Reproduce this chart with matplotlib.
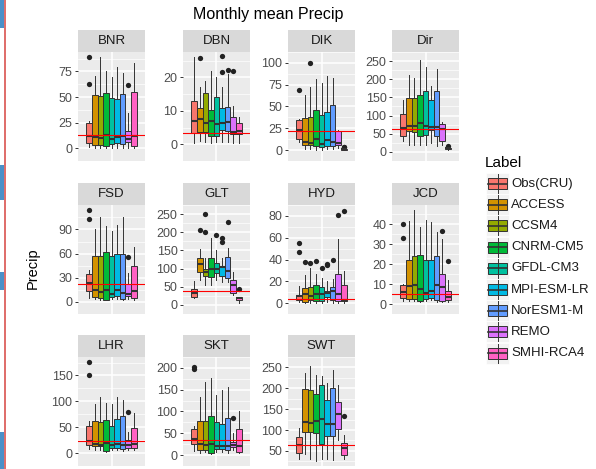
import matplotlib.pyplot as plt
from matplotlib.patches import Rectangle

plt.rcParams["font.family"] = ["Liberation Sans", "DejaVu Sans"]

W, H = 596, 469

labels = ["Obs(CRU)", "ACCESS", "CCSM4", "CNRM-CM5", "GFDL-CM3",
          "MPI-ESM-LR", "NorESM1-M", "REMO", "SMHI-RCA4"]
colors = ["#F8766D", "#D39200", "#93AA00", "#00BA38", "#00C19F",
          "#00B9E3", "#619CFF", "#DB72FB", "#FF61C3"]
stations = ["BNR", "DBN", "DIK", "Dir", "FSD", "GLT", "HYD", "JCD",
            "LHR", "SKT", "SWT"]

# box stats per model: (whislo, q1, median, q3, whishi)
bnr_box = [(1, 5, 12, 25, 27), (0.5, 3, 11, 52, 71), (0.5, 3, 10, 51.5, 89),
           (0.5, 2, 13, 54, 75), (0.5, 4, 9, 49, 70), (0.5, 5, 11, 48.5, 79.5),
           (0.5, 4, 12, 53, 74), (0.5, 6, 9, 17, 34), (0.5, 2, 12, 55, 83)]
bnr_out = [[89.6, 63], [], [], [], [], [], [], [61.6], []]
dbn_box = [(0.5, 3.5, 7, 13, 26), (1, 3.6, 7.5, 10.9, 17), (0.8, 3.6, 6.3, 15.4, 19),
           (0.5, 2.4, 6.9, 10.4, 22), (0.8, 2.5, 6.0, 14.1, 20), (0.8, 4.2, 6.4, 10.9, 17),
           (0.6, 4.0, 6.6, 11.1, 21), (0.3, 3.0, 3.8, 8.2, 11.3), (0.3, 3.0, 3.9, 6.4, 8.2)]
dbn_out = [[], [25.9], [], [], [], [26.3, 21.6], [22.2], [21.9], []]
dik_box = [(9, 13.3, 23, 34.7, 35.7), (1, 5.7, 9, 36.7, 63), (1, 6, 8.3, 38.3, 72.3),
           (0.5, 4.7, 12.3, 45.7, 81.3), (0.5, 4, 7.3, 40.7, 77), (1, 5, 11.7, 44, 85),
           (1, 5, 9, 51.3, 83), (2, 6, 8, 22.3, 22.5), (0.2, 0.5, 1, 1.5, 2.5)]
dik_out = [[69], [], [99.7], [], [], [], [], [], [3.5, 4]]
dir_box = [(30, 43, 65.8, 104.5, 141.6), (20, 57.3, 70.8, 148.4, 213),
           (20, 55.6, 70.8, 148.4, 203), (18, 43, 78.4, 156.8, 252),
           (20, 47, 70.8, 167, 233), (25, 60, 68, 143, 182),
           (15, 44.7, 67.5, 168.6, 227), (20, 30, 64, 76.7, 81), (5, 8, 10, 12, 14)]
dir_out = [[], [], [], [], [], [], [], [], [17]]
fsd_box = [(5, 14, 24, 35, 40), (3.5, 5.7, 15.2, 56.7, 90), (3, 5, 12.2, 56.7, 105),
           (2, 2.7, 14.4, 61.6, 94), (4, 6.5, 10.3, 56.7, 88.6), (4, 7.6, 14.4, 59.7, 95.8),
           (2, 3.8, 11.4, 59.7, 105), (4, 7.6, 10.3, 21.7, 35.4), (3, 5, 14, 44.5, 68.4)]
fsd_out = [[114.8, 102.7], [], [], [], [], [], [], [56.3], []]
glt_box = [(18, 23, 33, 43.9, 66), (68.7, 91, 113.4, 130, 155), (53.8, 78.6, 91, 99.3, 128),
           (53.8, 77, 97.7, 128, 183.8), (68.7, 88.6, 99.3, 115.9, 151.5),
           (63, 78.6, 103.5, 107.6, 128), (62, 74.5, 92.7, 130.8, 157),
           (27, 33, 55.5, 68.7, 91), (5.8, 12.4, 18.2, 22.4, 22.4)]
glt_out = [[], [205], [250, 201], [], [193], [183.8, 173.8], [229], [], [43.9]]
hyd_box = [(1, 2.8, 6.2, 7.7, 15.6), (0.2, 0.9, 8.5, 14.2, 25.5), (0.5, 2.8, 6.2, 14.8, 32.6),
           (0.5, 2.3, 8.5, 16.2, 26.4), (0.5, 2, 8.5, 14.8, 23.3), (1, 5.7, 9.1, 11.3, 19.9),
           (0.5, 2.8, 11.3, 15, 22.1), (0.5, 2, 7.9, 27, 59), (0.5, 2, 2.8, 16.2, 29)]
hyd_out = [[55.3, 46.8], [37.4], [36.9], [38.3], [32.1], [34.6, 36.3], [39.1], [80.9], [84.3]]
jcd_box = [(1.6, 3.1, 5.8, 9.7, 10.2), (1.5, 2.4, 9, 22, 41.6), (1.5, 2.4, 9.4, 24.3, 47.4),
           (1, 1.6, 7.4, 24.6, 38.5), (1.5, 2.7, 5.5, 22, 42), (2, 3.1, 6.3, 22, 41.1),
           (1, 1.9, 9.4, 24.3, 36.4), (0.8, 1.3, 8.6, 14.9, 32.5), (1, 1.9, 3.6, 6.6, 12.1)]
jcd_out = [[40, 33.4], [], [], [], [], [], [], [36.9], [21.5]]
lhr_box = [(8, 16.5, 24, 51.8, 62), (5, 13.5, 18, 62, 94.7), (5, 13, 16.5, 60.6, 108.8),
           (2, 3.5, 19.4, 64.7, 96), (5, 10, 14.7, 53, 94), (5, 10, 18.2, 66.5, 108.8),
           (4, 8, 15.3, 72.4, 101.8), (6, 10.6, 15.3, 25.3, 40), (5, 10, 17.6, 48.8, 78.2)]
lhr_out = [[177, 150.6], [], [], [], [], [], [], [79.4], []]
skt_box = [(9, 26, 36, 60, 67), (5, 11, 26, 79, 134), (6, 12, 23, 78, 168),
           (3, 5.5, 26, 89, 176), (8, 14, 21, 76, 137), (8, 14, 21, 72, 149),
           (5, 11, 20, 84, 156), (12, 18, 24, 31, 50), (4, 8, 20, 59, 101)]
skt_out = [[203, 198], [], [], [], [], [], [], [86], []]
swt_box = [(30.6, 43.8, 63.2, 82.6, 104.3), (42, 94.2, 119.8, 198.8, 235.7),
           (30, 94.2, 117.4, 195.7, 253.5), (25.2, 92.6, 121.3, 185.7, 232.2),
           (30, 65.5, 126, 209, 229.8), (30, 86.4, 113.6, 171.7, 212.8),
           (28, 86.4, 113.6, 201, 243.8), (77, 102.7, 139.1, 166.3, 209),
           (30.6, 40, 57, 68.6, 87.9)]
swt_out = [[], [], [], [], [], [], [], [], [133]]

obs_line = [12.5, 3.5, 22.3, 62.4, 22.4, 37.3, 3.4, 5.2, 23.5, 35, 63.2]
yticks = [[0, 25, 50, 75], [0, 10, 20], [0, 25, 50, 75, 100],
          [0, 50, 100, 150, 200, 250], [0, 30, 60, 90], [0, 50, 100, 150, 200, 250],
          [0, 20, 40, 60, 80], [0, 10, 20, 30, 40], [0, 50, 100, 150],
          [0, 50, 100, 150, 200], [50, 100, 150, 200, 250]]

boxes = [bnr_box, dbn_box, dik_box, dir_box, fsd_box, glt_box, hyd_box, jcd_box,
         lhr_box, skt_box, swt_box]
outs = [bnr_out, dbn_out, dik_out, dir_out, fsd_out, glt_out, hyd_out, jcd_out,
        lhr_out, skt_out, swt_out]

fig = plt.figure(figsize=(W / 100, H / 100), dpi=100)
fig.patch.set_facecolor("white")


def px_axes(left, top, w, h):
    return fig.add_axes([left / W, 1 - (top + h) / H, w / W, h / H])


col_left = [78, 183, 288, 392]
row_top = [52, 205, 357]
pw, ph, sh = 67, 109, 22

for k, name in enumerate(stations):
    r, c = divmod(k, 4)
    ax = px_axes(col_left[c], row_top[r], pw, ph)
    st = px_axes(col_left[c], row_top[r] - sh, pw, sh)

    stats = []
    allv = [obs_line[k]]
    for (lo, q1, med, q3, hi), fl in zip(boxes[k], outs[k]):
        stats.append(dict(whislo=lo, q1=q1, med=med, q3=q3, whishi=hi, fliers=fl))
        allv += [lo, hi] + fl
    pos = [1 + (i - 4) * 0.1 for i in range(9)]
    bp = ax.bxp(stats, positions=pos, widths=0.1, patch_artist=True,
                showcaps=False, manage_ticks=False,
                boxprops=dict(edgecolor="#333333", linewidth=0.7),
                medianprops=dict(color="#333333", linewidth=1.5),
                whiskerprops=dict(color="#333333", linewidth=0.7),
                flierprops=dict(marker="o", markerfacecolor="#222222",
                                markeredgecolor="none", markersize=3.8))
    for patch, col in zip(bp["boxes"], colors):
        patch.set_facecolor(col)
    ax.axhline(obs_line[k], color="red", lw=0.8, zorder=5)

    lo, hi = min(allv), max(allv)
    rng = hi - lo
    ax.set_ylim(lo - 0.05 * rng, hi + 0.05 * rng)
    ax.set_xlim(0.4, 1.6)

    t = yticks[k]
    step = t[1] - t[0]
    ax.set_yticks(t)
    minors = [v + step / 2 for v in [t[0] - step] + t]
    ax.set_yticks(minors, minor=True)
    ax.set_xticks([1])
    ax.set_facecolor("#EBEBEB")
    ax.set_axisbelow(True)
    ax.grid(True, which="major", color="white", lw=1.1)
    ax.yaxis.grid(True, which="minor", color="white", lw=0.5)
    for s in ax.spines.values():
        s.set_visible(False)
    ax.tick_params(axis="y", which="major", length=2.5, width=0.7, color="#333333",
                   labelsize=9, labelcolor="#4D4D4D", pad=1.5)
    ax.tick_params(axis="y", which="minor", length=0)
    ax.tick_params(axis="x", length=0, labelbottom=False)

    st.set_facecolor("#D9D9D9")
    st.set_xticks([])
    st.set_yticks([])
    for s in st.spines.values():
        s.set_visible(False)
    st.text(0.5, 0.5, name, ha="center", va="center", fontsize=9.5, color="#1A1A1A",
            transform=st.transAxes)

fig.text(268 / W, 1 - 15 / H, "Monthly mean Precip", ha="center", va="center", fontsize=11.5)
fig.text(33 / W, 1 - 268 / H, "Precip", ha="center", va="center", rotation=90, fontsize=10.5)

# legend
lg = px_axes(478, 150, 118, 215)
lg.set_xlim(478, 596)
lg.set_ylim(365, 150)
lg.axis("off")
lg.text(485, 163, "Label", ha="left", va="center", fontsize=11)
for i, (lab, col) in enumerate(zip(labels, colors)):
    y0 = 173 + i * 21.2
    lg.add_patch(Rectangle((486, y0), 23, 21, facecolor="#F2F2F2", edgecolor="white", lw=0.5))
    lg.plot([497.5, 497.5], [y0 + 1, y0 + 20], color="#333333", lw=0.7)
    lg.add_patch(Rectangle((488, y0 + 5), 19, 11, facecolor=col, edgecolor="#333333", lw=0.7))
    lg.plot([488, 507], [y0 + 10.5, y0 + 10.5], color="#333333", lw=1.2)
    lg.text(511, y0 + 10.5, lab, ha="left", va="center", fontsize=9.5, color="#1A1A1A")

# screenshot edge strip on the far left
edge = px_axes(0, 0, 7, H)
edge.set_xlim(0, 7)
edge.set_ylim(H, 0)
edge.axis("off")
edge.plot([5, 5], [0, H], color="#D9534F", lw=1.2)
for y0, y1 in [(0, 28), (165, 200), (272, 290), (432, 469)]:
    edge.add_patch(Rectangle((0, y0), 3.5, y1 - y0, facecolor="#4A90C8", edgecolor="none"))

fig.savefig("out.png", dpi=100)
